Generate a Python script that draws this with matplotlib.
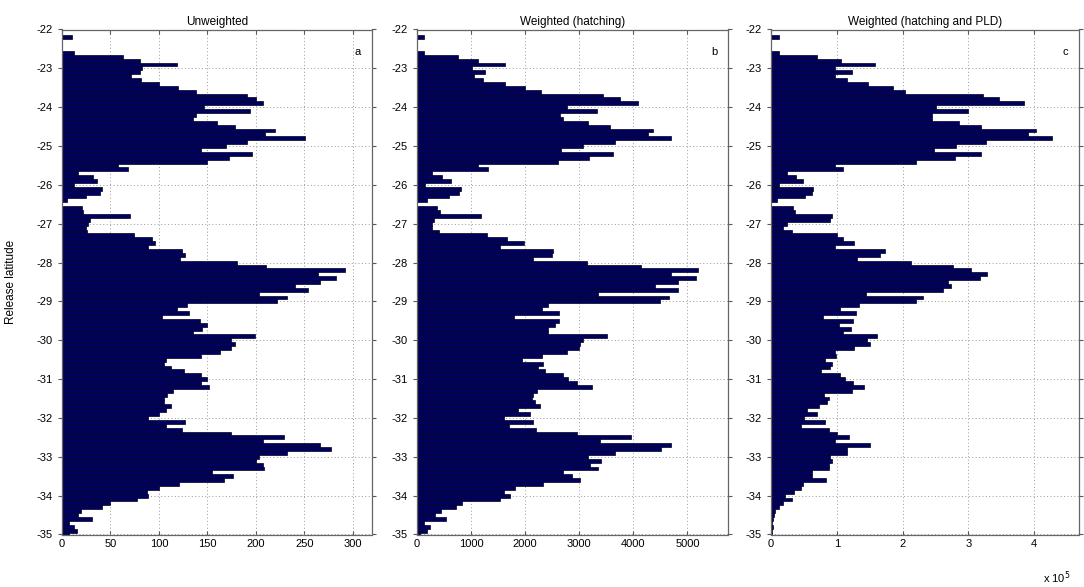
import numpy as np
import matplotlib
matplotlib.use("Agg")
import matplotlib.pyplot as plt

plt.rcParams["font.family"] = ["Liberation Sans", "DejaVu Sans"]
plt.rcParams["axes.unicode_minus"] = False

# release latitude bins, 0.1 degree apart (-22.0 ... -35.0)
lat = np.round(-22.0 - 0.1 * np.arange(131), 1)

unweighted = [
    0, 0, 10, 0, 0, 0, 12, 63, 81, 119,
    83, 81, 71, 82, 100, 120, 138, 191, 200, 207,
    147, 194, 138, 135, 160, 179, 220, 210, 251, 191,
    169, 143, 196, 172, 150, 58, 68, 16, 32, 36,
    12, 41, 39, 25, 5, 0, 21, 22, 70, 29,
    27, 25, 26, 74, 93, 96, 89, 124, 127, 122,
    181, 211, 292, 264, 283, 266, 240, 254, 203, 232,
    222, 129, 119, 131, 103, 142, 150, 144, 135, 199,
    174, 179, 174, 163, 143, 107, 105, 113, 126, 143,
    150, 143, 152, 115, 108, 105, 105, 113, 107, 100,
    89, 127, 107, 124, 174, 229, 207, 266, 278, 232,
    203, 200, 207, 208, 155, 177, 167, 121, 100, 88,
    89, 77, 50, 41, 20, 16, 31, 7, 12, 15,
    7,
]

w_hatching = [
    0, 0, 123, 0, 0, 0, 123, 750, 1120, 1630,
    1015, 1260, 1045, 1218, 1630, 2000, 2290, 3445, 3750, 4090,
    2770, 3320, 2645, 2695, 3170, 3570, 4355, 4275, 4690, 3660,
    3075, 2660, 3615, 3185, 2615, 1120, 1320, 277, 460, 635,
    154, 810, 780, 600, 180, 0, 370, 430, 1180, 320,
    277, 277, 400, 1300, 1670, 1970, 1540, 2520, 2490, 2150,
    3135, 4150, 5200, 4700, 5150, 4830, 4400, 4830, 3350, 4660,
    4490, 2430, 2305, 2630, 1785, 2630, 2550, 2430, 2430, 3505,
    3075, 3015, 3000, 2770, 2305, 1940, 2325, 2245, 2370, 2695,
    2800, 2950, 3230, 2215, 2150, 2120, 2180, 2265, 1875, 2080,
    1600, 2140, 1710, 2200, 2950, 3965, 3380, 4705, 4520, 3660,
    3165, 3410, 3200, 3350, 2705, 2860, 3015, 2335, 1815, 1600,
    1720, 1540, 830, 725, 443, 338, 541, 123, 246, 185,
    60,
]

# in units of 10^5
w_hatching_pld = [
    0, 0, 0.12, 0, 0, 0, 0.12, 0.70, 1.06, 1.58,
    0.97, 1.23, 0.97, 1.16, 1.48, 1.86, 2.03, 3.22, 3.47, 3.85,
    2.51, 2.99, 2.44, 2.44, 2.85, 3.19, 4.03, 3.91, 4.27, 3.27,
    2.81, 2.47, 3.19, 2.79, 2.21, 0.97, 1.09, 0.25, 0.38, 0.49,
    0.12, 0.64, 0.62, 0.52, 0.09, 0, 0.33, 0.37, 0.92, 0.89,
    0.24, 0.18, 0.32, 1.00, 1.09, 1.26, 0.97, 1.73, 1.66, 1.30,
    2.12, 2.76, 3.04, 3.28, 3.17, 2.69, 2.73, 2.61, 1.45, 2.31,
    2.21, 1.33, 1.05, 1.29, 0.79, 1.24, 1.04, 1.21, 1.10, 1.61,
    1.46, 1.50, 1.26, 0.97, 0.99, 0.82, 0.92, 0.89, 0.76, 1.05,
    1.12, 1.25, 1.41, 1.23, 0.80, 0.88, 0.85, 0.73, 0.54, 0.70,
    0.50, 0.82, 0.45, 0.88, 1.00, 1.18, 0.98, 1.50, 1.15, 1.15,
    0.90, 0.92, 0.88, 0.88, 0.62, 0.62, 0.84, 0.48, 0.45, 0.35,
    0.22, 0.32, 0.18, 0.12, 0.06, 0.05, 0.03, 0.02, 0.03, 0.02,
    0.02,
]

titles = ["Unweighted", "Weighted (hatching)", "Weighted (hatching and PLD)"]
letters = ["a", "b", "c"]
series = [unweighted, w_hatching, w_hatching_pld]
xlims = [320, 5750, 4.68]
xticks = [np.arange(0, 301, 50), np.arange(0, 5001, 1000), np.arange(0, 5, 1)]
yticks = np.arange(-35, -21)

W, H = 1084, 587
fig = plt.figure(figsize=(W / 100, H / 100), dpi=100)

# axes boxes in pixels: (left, right)
boxes = [(62, 372), (417, 728), (771, 1079)]
top, bottom = 29.5, 534.5

for i, (l, r) in enumerate(boxes):
    ax = fig.add_axes([l / W, 1 - bottom / H, (r - l) / W, (bottom - top) / H])
    ax.barh(lat, series[i], height=0.1, color="#00005f", edgecolor="#000020", linewidth=0.5, zorder=2)
    ax.set_xlim(0, xlims[i])
    ax.set_ylim(-35, -22)
    ax.set_xticks(xticks[i])
    ax.set_yticks(yticks)
    ax.grid(True, linestyle=(0, (1, 2.5)), color="0.6", linewidth=0.7, zorder=0)
    ax.tick_params(axis="y", direction="out", length=3, right=True, labelsize=8, color="0.35")
    ax.tick_params(axis="x", direction="in", length=3, top=True, labelsize=8, color="0.35")
    for s in ax.spines.values():
        s.set_color("0.4")
        s.set_linewidth(0.9)
    ax.set_title(titles[i], fontsize=8.5, pad=3)
    ax.text(0.955, 0.955, letters[i], transform=ax.transAxes, fontsize=8, ha="center", va="center")
    if i == 0:
        ax.set_ylabel("Release latitude", fontsize=8.5, labelpad=14)

fig.text(1070 / W, 1 - 578 / H, r"x 10$^{5}$", fontsize=8, ha="right", va="center")

fig.savefig("out.png", dpi=100)
